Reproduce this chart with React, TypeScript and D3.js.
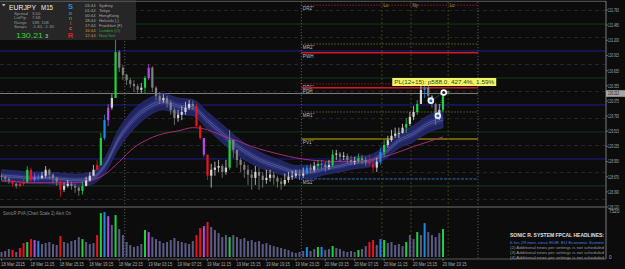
import React from "react";
import * as d3 from "d3";

// ---------- DATA ----------
const closes = [
  128.67, 128.63, 128.60, 128.54, 128.50, 128.54, 128.58, 128.80, 128.61, 128.67,
  128.65, 128.69, 128.80, 128.71, 128.65, 128.58, 128.43, 128.50, 128.54, 128.50,
  128.47, 128.41, 128.50, 128.60, 128.69, 128.80, 128.89, 129.39, 129.72, 129.95,
  130.13, 130.98, 130.69, 130.56, 130.46, 130.39, 130.35, 130.28, 130.32, 130.50,
  130.69, 130.32, 130.17, 130.09, 130.13, 130.04, 129.91, 129.76, 129.82, 129.87,
  129.95, 130.02, 129.98, 129.61, 129.39, 129.08, 128.69, 128.80, 128.84, 128.87,
  128.76, 128.84, 129.35, 129.17, 128.98, 128.89, 128.80, 128.71, 128.65, 128.76,
  128.69, 128.61, 128.65, 128.71, 128.65, 128.58, 128.54, 128.61, 128.67, 128.69,
  128.73, 128.69, 128.73, 128.84, 128.80, 128.87, 128.91, 128.89, 128.85, 128.89,
  129.08, 129.10, 129.04, 129.06, 128.98, 128.95, 128.96, 129.02, 128.98, 128.95,
  128.91, 128.84, 128.95, 129.13, 129.26, 129.35, 129.43, 129.47, 129.48, 129.58,
  129.65, 129.78, 129.87, 130.02, 130.28, 130.32, 130.17, 130.02, 129.84, 129.91,
  130.21,
];
const highs = [
  128.73, 128.69, 128.67, 128.61, 128.56, 128.60, 128.63, 128.87, 128.84, 128.74,
  128.73, 128.76, 128.87, 128.82, 128.73, 128.67, 128.61, 128.56, 128.61, 128.58,
  128.54, 128.50, 128.58, 128.67, 128.76, 128.89, 128.98, 129.48, 129.82, 130.02,
  130.20, 131.24, 131.02, 130.74, 130.58, 130.50, 130.46, 130.39, 130.41, 130.54,
  130.76, 130.72, 130.35, 130.24, 130.20, 130.17, 130.09, 129.95, 129.91, 129.98,
  130.06, 130.09, 130.08, 130.02, 129.63, 129.39, 129.08, 128.91, 128.95, 128.98,
  128.91, 128.98, 129.54, 129.35, 129.17, 129.02, 128.95, 128.89, 128.80, 128.87,
  128.84, 128.76, 128.80, 128.80, 128.76, 128.69, 128.65, 128.73, 128.76, 128.78,
  128.80, 128.80, 128.84, 128.89, 128.91, 128.95, 128.98, 128.98, 128.95, 128.98,
  129.17, 129.17, 129.13, 129.13, 129.10, 129.06, 129.04, 129.10, 129.08, 129.04,
  129.08, 128.98, 129.02, 129.21, 129.35, 129.43, 129.54, 129.58, 129.58, 129.65,
  129.76, 129.87, 129.98, 130.09, 130.37, 130.39, 130.35, 130.19, 130.04, 130.02,
  130.28,
];
const lows = [
  128.61, 128.58, 128.54, 128.49, 128.45, 128.47, 128.50, 128.56, 128.56, 128.58,
  128.60, 128.63, 128.65, 128.63, 128.56, 128.50, 128.30, 128.39, 128.47, 128.43,
  128.37, 128.32, 128.34, 128.49, 128.58, 128.69, 128.80, 128.87, 129.35, 129.61,
  129.91, 130.13, 130.61, 130.46, 130.37, 130.32, 130.24, 130.20, 130.22, 130.22,
  130.46, 130.24, 130.09, 130.02, 130.04, 129.95, 129.82, 129.63, 129.69, 129.72,
  129.82, 129.91, 129.91, 129.58, 129.35, 129.04, 128.61, 128.47, 128.69, 128.76,
  128.65, 128.71, 128.80, 129.02, 128.84, 128.76, 128.65, 128.52, 128.43, 128.52,
  128.43, 128.47, 128.54, 128.58, 128.52, 128.47, 128.43, 128.50, 128.56, 128.61,
  128.65, 128.61, 128.65, 128.71, 128.73, 128.76, 128.80, 128.80, 128.76, 128.80,
  128.85, 128.98, 128.95, 128.98, 128.91, 128.89, 128.89, 128.93, 128.91, 128.87,
  128.87, 128.76, 128.76, 128.89, 129.04, 129.21, 129.32, 129.39, 129.39, 129.47,
  129.48, 129.61, 129.72, 129.82, 130.02, 130.13, 130.09, 129.95, 129.63, 129.72,
  129.87,
];
const volumes = [
  820, 980, 1300, 1140, 820, 1470, 2280, 2450, 2930, 2770,
  2610, 2120, 2280, 2450, 2120, 1960, 3420, 2450, 2280, 2610,
  2770, 3260, 2930, 2450, 2120, 2280, 3590, 7170, 7340, 6680,
  5220, 6850, 4560, 3590, 2450, 1960, 1630, 1790, 2120, 4400,
  4080, 3260, 2930, 2610, 2280, 2450, 2770, 3100, 2610, 2450,
  2280, 2120, 2610, 3590, 4730, 5050, 5710, 4890, 4400, 3910,
  3260, 3590, 3260, 3590, 3260, 2930, 3100, 2610, 2770, 2450,
  2610, 2120, 2280, 1960, 1790, 1630, 1470, 1300, 1140, 820,
  650, 820, 980, 1630, 980, 1300, 1630, 1630, 1140, 1300,
  1790, 1470, 1300, 980, 820, 980, 820, 1140, 1300, 1790,
  2450, 2770, 1960, 2930, 2770, 2280, 2450, 1960, 2120, 1790,
  2450, 3590, 2930, 4080, 3590, 5540, 4080, 3590, 3260, 3910,
  4560,
];
// PVA class per bar: . normal, g climax bull, r climax bear, b rising bull, m rising bear
const pvaCodes = [
  "...r.rrgrmb", ".....r....", ".g...rgbm.", "g.......gm", "..........", "..rrmr....",
  ".g........", "..........", "..b..gb..g", "......g..r", "r.bg.....g", "..g.b....g",
].join("").split("");

// Indicator values read every 4 bars
const bandMid = [
  128.69, 128.67, 128.65, 128.65, 128.63, 128.61, 128.63, 128.87, 129.39, 129.74,
  129.96, 130.06, 129.98, 129.95, 129.71, 129.47, 129.24, 129.06, 128.93, 128.84,
  128.76, 128.76, 128.82, 128.87, 128.93, 128.96, 129.11, 129.34, 129.47, 129.65,
  129.74,
];
const bandHalf = [
  0.11, 0.11, 0.11, 0.11, 0.11, 0.11, 0.11, 0.14, 0.18, 0.18,
  0.16, 0.15, 0.15, 0.15, 0.16, 0.17, 0.16, 0.15, 0.14, 0.13,
  0.12, 0.12, 0.11, 0.11, 0.11, 0.11, 0.12, 0.14, 0.15, 0.16,
  0.16,
];
const slowMA = [
  128.60, 128.58, 128.56, 128.56, 128.56, 128.56, 128.60, 128.71, 128.95, 129.21,
  129.37, 129.47, 129.52, 129.58, 129.54, 129.43, 129.34, 129.23, 129.15, 129.08,
  129.02, 128.98, 128.96, 128.95, 128.95, 128.98, 129.04, 129.13, 129.23, 129.32,
  129.41,
];

const timeLabels = [
  "18 Mar 2015", "18 Mar 11:15", "18 Mar 15:15", "18 Mar 19:15", "18 Mar 23:15",
  "19 Mar 03:15", "19 Mar 07:15", "19 Mar 11:15", "19 Mar 15:15", "19 Mar 19:15",
  "19 Mar 23:15", "20 Mar 03:15", "20 Mar 07:15", "20 Mar 11:15", "20 Mar 15:15",
  "20 Mar 19:15",
];
const priceTicks = [
  131.76, 131.48, 131.2, 130.915, 130.635, 130.355, 130.075, 129.795, 129.515,
  129.235, 128.95, 128.67, 128.39, 128.11,
];
const dashedLevels = [131.75, 131.25, 130.75, 130.25, 129.75, 129.25, 128.75, 128.25];
const blueLevels = [131, 130, 129];
const greenLevels = [131.5, 130.5, 129.5, 128.5];
const dayBreakBars = [33.5, 81.5, 129.5];
const sessionNames = ["Lo", "Ny", "Lc"];
const sessionBars = [103.4, 111.3, 121.4];
const pivotNames = ["DR2''", "MR2''", "PWH", "DR1''", "PDH", "MR1''", "PV1''", "MS1''"];
const pivotPrices = [131.85, 131.13, 130.97, 130.39, 130.32, 129.87, 129.37, 128.63];
const bidPrice = 130.213;
const markerBars = [116.7, 118.6, 120.2];
const markerPrices = [130.08, 129.8, 130.23];
const plText = "PL(12+15): p588.0, 427.4%, 1.59%";
const plBar = 106.2;
const plPrice = 130.5;
const volMax = 7520;

const infoLabels = ["Spread", "LotPip", "Range", "Swaps"];
const infoValues = ["3.00", "7.68", "189, 108", "-1.40, -1.30"];
const sonicLetters = ["S", "o", "n", "i", "c", "R"];
const sessionTimes = ["03:44", "01:44", "00:44", "18:44", "17:44", "16:44", "12:44"];
const sessionCities = ["Sydney", "Tokyo", "HongKong", "Helsinki (-)", "Frankfurt (F)", "London (O)", "NewYork"];
const newsLines = [
  "SONIC R. SYSTEM  FPCAL HEADLINES:",
  "6 hrs 29 mins since EUR: EU Economic Summit",
  "(2)  Additional news per settings is not scheduled",
  "(3)  Additional news per settings is not scheduled",
  "(4)  Additional news per settings is not scheduled",
];

// ---------- STYLES ----------
const FONT = "'Liberation Sans', Arial, sans-serif";
const BG = "#0c0c0c";
const pvaColor: Record<string, string> = {
  g: "#1fd23c",
  r: "#e8141e",
  b: "#1e88e8",
  m: "#b44ae6",
};
const pivotStyle: Record<string, { c: string; w: number; d?: string }> = {
  "DR2''": { c: "#b82020", w: 0.8, d: "1.5,1.5" },
  "MR2''": { c: "#7a7a28", w: 0.8, d: "1.5,1.5" },
  PWH: { c: "#d41818", w: 1.5 },
  "DR1''": { c: "#b82020", w: 0.8, d: "1.5,1.5" },
  PDH: { c: "#d41818", w: 1.5 },
  "MR1''": { c: "#7a7a28", w: 0.8, d: "1.5,1.5" },
  "PV1''": { c: "#c8b400", w: 1.2 },
  "MS1''": { c: "#2f6fb5", w: 1, d: "3,1.2" },
};
const sonicColors = ["#1e8fe0", "#2a9ab8", "#2aa02a", "#c84040", "#d07020", "#e02020"];

export default function App() {
  const W = 625;
  const H = 269;
  const axisX = 606;
  const x = d3.scaleLinear().domain([0, 120]).range([1.5, 443]);
  const y = d3.scaleLinear().domain([128.11, 131.76]).range([207, 10]);
  const yv = d3.scaleLinear().domain([0, volMax]).range([257, 211]);
  const knots = bandMid.map((_, i) => i * 4);
  const bx = (_: number, i: number) => x(knots[i]);

  const band = (f: number) =>
    d3
      .area<number>()
      .x(bx)
      .y0((_, i) => y(bandMid[i] - bandHalf[i] * f))
      .y1((_, i) => y(bandMid[i] + bandHalf[i] * f))
      .curve(d3.curveMonotoneX)(bandMid) || "";
  const bandLine = (f: number) =>
    d3
      .line<number>()
      .x(bx)
      .y((_, i) => y(bandMid[i] + bandHalf[i] * f))
      .curve(d3.curveMonotoneX)(bandMid) || "";
  const maPath =
    d3
      .line<number>()
      .x(bx)
      .y((d) => y(d))
      .curve(d3.curveMonotoneX)(slowMA) || "";

  const pivotStart = x(dayBreakBars[1]);
  const pivotEnd = x(dayBreakBars[2]);
  const bw = 2.2;

  return (
    <div style={{ position: "fixed", left: 0, top: 0, width: W, height: H, background: BG }}>
      <svg width={W} height={H} style={{ display: "block", fontFamily: FONT }}>
        <rect x={0} y={0} width={W} height={H} fill={BG} />
        <defs>
          <clipPath id="mainClip">
            <rect x={0} y={2} width={axisX} height={204} />
          </clipPath>
        </defs>

        {/* grid */}
        <g clipPath="url(#mainClip)">
          {dashedLevels.map((p) => (
            <line key={"d" + p} x1={0} x2={axisX} y1={y(p)} y2={y(p)} stroke="#2c2c2c" strokeWidth={0.8} strokeDasharray="4,3" />
          ))}
          {greenLevels.map((p) => (
            <line key={"g" + p} x1={0} x2={axisX} y1={y(p)} y2={y(p)} stroke="#12401a" strokeWidth={0.9} />
          ))}
          {blueLevels.map((p) => (
            <line key={"b" + p} x1={0} x2={axisX} y1={y(p)} y2={y(p)} stroke="#1e1e8e" strokeWidth={1} />
          ))}
          {/* bid line */}
          <line x1={0} x2={pivotEnd} y1={y(bidPrice)} y2={y(bidPrice)} stroke="#8a8a8a" strokeWidth={0.9} />

          {/* pivot levels */}
          {pivotNames.map((n, i) => {
            const s = pivotStyle[n];
            const yy = y(pivotPrices[i]);
            return (
              <g key={n}>
                <line x1={pivotStart} x2={pivotEnd} y1={yy} y2={yy} stroke={s.c} strokeWidth={s.w} strokeDasharray={s.d} />
                <text x={pivotStart + 1.5} y={yy + 5} fontSize={4.6} fill="#bdbdbd">
                  {n}
                </text>
              </g>
            );
          })}
        </g>

        {/* day separators */}
        {dayBreakBars.map((b) => (
          <line key={"day" + b} x1={x(b)} x2={x(b)} y1={2} y2={258} stroke="#6a6a6a" strokeWidth={0.8} strokeDasharray="1.2,1.8" />
        ))}
        {/* session lines */}
        {sessionBars.map((b, i) => (
          <g key={"s" + b}>
            <line x1={x(b)} x2={x(b)} y1={2} y2={258} stroke="#4c4c1c" strokeWidth={0.8} strokeDasharray="2,2" />
            <text x={x(b) + 1.5} y={7} fontSize={4.5} fill="#a0a040">
              {sessionNames[i]}
            </text>
          </g>
        ))}

        {/* Sonic R dragon band */}
        <g clipPath="url(#mainClip)">
          <path d={band(1)} fill="#20245f" stroke="#30347e" strokeWidth={0.6} />
          <path d={band(0.45)} fill="#2b3078" />
          <path d={bandLine(0.12)} fill="none" stroke="#7f83ad" strokeWidth={0.45} />
          <path d={bandLine(-0.12)} fill="none" stroke="#7f83ad" strokeWidth={0.45} />
          <path d={maPath} fill="none" stroke="#a82c78" strokeWidth={1} />
        </g>

        {/* candles */}
        <g clipPath="url(#mainClip)">
          {closes.map((c, i) => {
            const o = i === 0 ? c + 0.02 : closes[i - 1];
            const hi = Math.max(highs[i], o, c);
            const lo = Math.min(lows[i], o, c);
            const code = pvaCodes[i];
            const bull = c >= o;
            const col = code !== "." ? pvaColor[code] : bull ? "#d4d4d4" : "#808080";
            const cx = x(i);
            const top = y(Math.max(o, c));
            const bot = y(Math.min(o, c));
            return (
              <g key={"c" + i}>
                <line x1={cx} x2={cx} y1={y(hi)} y2={y(lo)} stroke={col} strokeWidth={0.8} />
                <rect x={cx - bw / 2} y={top} width={bw} height={Math.max(0.8, bot - top)} fill={col} />
              </g>
            );
          })}
        </g>

        {/* trade markers */}
        <line x1={x(markerBars[0])} y1={y(markerPrices[0])} x2={x(markerBars[2])} y2={y(markerPrices[2])} stroke="#7d98d8" strokeWidth={0.7} strokeDasharray="1,1.2" />
        <line x1={x(markerBars[1])} y1={y(markerPrices[1])} x2={x(markerBars[2])} y2={y(markerPrices[2])} stroke="#7d98d8" strokeWidth={0.7} strokeDasharray="1,1.2" />
        {markerBars.map((b, i) => (
          <g key={"m" + i}>
            <circle cx={x(b)} cy={y(markerPrices[i])} r={3.3} fill="#f4f4f4" />
            <circle cx={x(b)} cy={y(markerPrices[i])} r={1.5} fill={i === 2 ? "#202020" : "#1a6fd0"} />
          </g>
        ))}
        <path
          d={`M${x(markerBars[2]) + 3.5},${y(markerPrices[2]) - 1.8} l3,1.2 l-3,1.2 z`}
          fill="#22cc33"
        />

        {/* P/L label */}
        <rect x={x(plBar)} y={y(plPrice)} width={104} height={8} fill="#f4f46a" />
        <text x={x(plBar) + 2} y={y(plPrice) + 6.2} fontSize={6} fill="#2d4a10" textLength={100} lengthAdjust="spacingAndGlyphs">
          {plText}
        </text>

        {/* info panel */}
        <rect x={0} y={0} width={136} height={40} fill="#262626" />
        <path d="M2,4 L5.5,4 L3.75,6.5 Z" fill="#bbbbbb" />
        <text x={9} y={9.5} fontSize={7.5} fill="#f0f0f0" textLength={27} lengthAdjust="spacingAndGlyphs">EURJPY</text>
        <text x={41} y={9.5} fontSize={7.5} fill="#f0f0f0" textLength={12} lengthAdjust="spacingAndGlyphs">M15</text>
        {infoLabels.map((l, i) => (
          <g key={l}>
            <text x={14} y={14.5 + i * 4.6} fontSize={4.3} fill="#9a9a9a">{l}</text>
            <text x={32} y={14.5 + i * 4.6} fontSize={4.3} fill="#9a9a9a">{infoValues[i]}</text>
          </g>
        ))}
        <text x={16} y={37.5} fontSize={8} fill="#37d237" textLength={27} lengthAdjust="spacingAndGlyphs">130.21</text>
        <text x={45} y={37.5} fontSize={5.5} fill="#b8d8b8">3</text>
        {sonicLetters.map((s, i) => (
          <text
            key={"sl" + i}
            x={70.5}
            y={i === 0 ? 9 : i === 5 ? 38 : 14.5 + (i - 1) * 5.3}
            fontSize={i === 0 || i === 5 ? 7.5 : 5.5}
            fontWeight="bold"
            textAnchor="middle"
            fill={sonicColors[i]}
          >
            {s}
          </text>
        ))}
        {sessionTimes.map((t, i) => {
          const hot = i >= 5;
          return (
            <g key={"st" + i}>
              <text x={85} y={6.6 + i * 5} fontSize={4.2} fill={hot ? "#c8963c" : "#a8a8a8"}>{t}</text>
              <text x={99} y={6.6 + i * 5} fontSize={4.2} fill={hot ? "#3aa03a" : "#a8a8a8"}>{sessionCities[i]}</text>
            </g>
          );
        })}

        {/* frame + axes */}
        <line x1={0} x2={axisX} y1={1.3} y2={1.3} stroke="#5a5a5a" strokeWidth={1} />
        <line x1={axisX} x2={axisX} y1={1} y2={259} stroke="#7a7a7a" strokeWidth={1} />
        <line x1={0} x2={axisX} y1={207} y2={207} stroke="#4e4e4e" strokeWidth={1.6} />
        <line x1={0} x2={axisX} y1={259} y2={259} stroke="#5a5a5a" strokeWidth={1} />
        {priceTicks.map((p) => (
          <g key={"pt" + p}>
            <line x1={axisX} x2={axisX + 2} y1={y(p)} y2={y(p)} stroke="#8a8a8a" strokeWidth={0.7} />
            <text x={608} y={y(p) + 1.8} fontSize={4.6} fill="#a8a8a8" textLength={11} lengthAdjust="spacingAndGlyphs">
              {p.toFixed(3)}
            </text>
          </g>
        ))}
        <rect x={axisX} y={y(bidPrice) - 3.3} width={19} height={6.6} fill="#a6a6a6" />
        <text x={608} y={y(bidPrice) + 1.8} fontSize={4.6} fill="#111" textLength={11} lengthAdjust="spacingAndGlyphs">
          {bidPrice.toFixed(3)}
        </text>

        {/* x axis */}
        {timeLabels.map((t, i) => (
          <g key={"tl" + i}>
            <line x1={x(i * 8)} x2={x(i * 8)} y1={259} y2={261} stroke="#8a8a8a" strokeWidth={0.7} />
            <text x={x(i * 8) - 0.5} y={266} fontSize={4.8} fill="#a8a8a8" textLength={24} lengthAdjust="spacingAndGlyphs">
              {t}
            </text>
          </g>
        ))}

        {/* volume panel */}
        <text x={3} y={215} fontSize={4.6} fill="#8a8a8a" textLength={68} lengthAdjust="spacingAndGlyphs">
          SonicR PVA  (Chart Scale 2)  Alert On
        </text>
        {volumes.map((v, i) => {
          const code = pvaCodes[i];
          return (
            <rect
              key={"v" + i}
              x={x(i) - 1}
              y={yv(v)}
              width={2}
              height={yv(0) - yv(v)}
              fill={code !== "." ? pvaColor[code] : "#5b5b85"}
            />
          );
        })}
        <text x={609} y={213} fontSize={4.6} fill="#a8a8a8">{volMax}</text>
        <text x={609} y={258.5} fontSize={4.6} fill="#a8a8a8">0</text>

        {/* news */}
        {newsLines.map((l, i) => (
          <text
            key={"n" + i}
            x={604}
            y={237 + (i === 0 ? 0 : 1.5 + i * 5)}
            fontSize={i === 0 ? 4.8 : 4.4}
            fontWeight={i === 0 ? "bold" : "normal"}
            textAnchor="end"
            fill={i === 0 ? "#e0e0e0" : i === 1 ? "#3a86e0" : "#9a9a9a"}
            textLength={94}
            lengthAdjust="spacingAndGlyphs"
          >
            {l}
          </text>
        ))}
      </svg>
    </div>
  );
}
